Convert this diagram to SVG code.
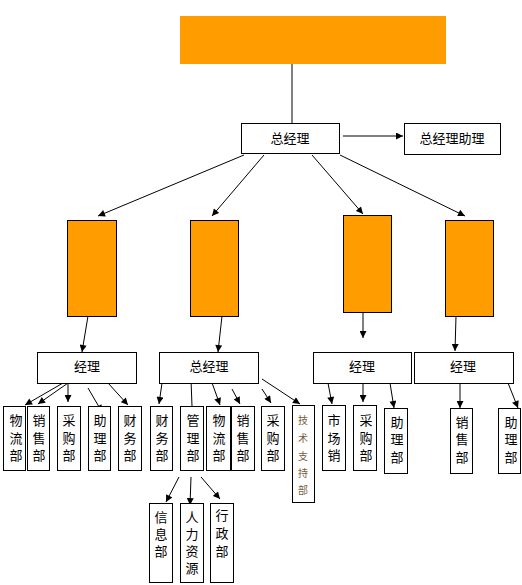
<svg xmlns="http://www.w3.org/2000/svg" width="522" height="585" viewBox="0 0 522 585">
<style>
.box{fill:#fff;stroke:#000;stroke-width:1}
.org{fill:#FF9C00;stroke:#000;stroke-width:1}
.t{font-family:"Liberation Sans","Noto Sans CJK SC",sans-serif;font-size:13px;fill:#000;text-anchor:middle}
.s{font-family:"Liberation Sans","Noto Sans CJK SC",sans-serif;font-size:10px;fill:#7a5c3c;text-anchor:middle}
.c{stroke:#000;stroke-width:1;fill:none}
.a{stroke:#000;stroke-width:1;fill:none;marker-end:url(#ah)}
</style>
<defs>
<marker id="ah" viewBox="0 0 10 10" refX="10" refY="5" markerWidth="8" markerHeight="7" orient="auto" markerUnits="userSpaceOnUse"><path d="M0,0 L10,5 L0,10 z" fill="#000"/></marker>
</defs>
<rect width="522" height="585" fill="#fff"/>
<g id="connectors">
<line class="c" x1="292" y1="64" x2="292" y2="123"/>
<line class="a" x1="343" y1="136" x2="403" y2="136"/>
<line class="a" x1="244" y1="155" x2="98" y2="216"/>
<line class="a" x1="264" y1="155" x2="212" y2="216"/>
<line class="a" x1="312" y1="155" x2="363" y2="214"/>
<line class="a" x1="340" y1="155" x2="465" y2="216"/>
<line class="a" x1="88" y1="316" x2="82" y2="352"/>
<line class="a" x1="222" y1="316" x2="218" y2="352"/>
<line class="a" x1="363" y1="312" x2="363" y2="338"/>
<line class="a" x1="456" y1="316" x2="455" y2="351"/>
<line class="a" x1="63" y1="383" x2="25" y2="405"/>
<line class="a" x1="68" y1="383" x2="38" y2="404"/>
<line class="a" x1="68" y1="378" x2="68" y2="402"/>
<line class="a" x1="88" y1="388" x2="102" y2="412"/>
<line class="a" x1="108" y1="383" x2="128" y2="405"/>
<line class="a" x1="162" y1="383" x2="159" y2="404"/>
<line class="c" x1="191" y1="380" x2="192" y2="406"/>
<line class="a" x1="211" y1="380" x2="220" y2="405"/>
<line class="a" x1="232" y1="389" x2="240" y2="404"/>
<line class="a" x1="262" y1="389" x2="271" y2="403"/>
<line class="a" x1="262" y1="379" x2="300" y2="404"/>
<line class="a" x1="179" y1="477" x2="166" y2="502"/>
<line class="a" x1="191" y1="477" x2="190" y2="505"/>
<line class="a" x1="201" y1="477" x2="220" y2="499"/>
<line class="a" x1="328" y1="383" x2="332" y2="404"/>
<line class="a" x1="363" y1="379" x2="363" y2="402"/>
<line class="a" x1="390" y1="383" x2="394" y2="408"/>
<line class="a" x1="460" y1="383" x2="460" y2="408"/>
<line class="a" x1="508" y1="383" x2="518" y2="408"/>
</g>
<g id="top"><rect x="180" y="16" width="266" height="48" fill="#FF9C00"/></g>
<g id="zjl"><rect class="box" x="241.5" y="123.5" width="98" height="30"/><text class="t" x="290" y="143">总经理</text></g>
<g id="zjlzl"><rect class="box" x="404.5" y="123.5" width="96" height="31"/><text class="t" x="452" y="143">总经理助理</text></g>
<g id="o1"><rect class="org" x="67.5" y="220.5" width="49" height="96"/></g>
<g id="o2"><rect class="org" x="190.5" y="220.5" width="48" height="96"/></g>
<g id="o3"><rect class="org" x="343.5" y="215.5" width="48" height="97"/></g>
<g id="o4"><rect class="org" x="445.5" y="220.5" width="48" height="96"/></g>
<g id="m1"><rect class="box" x="37.5" y="352.5" width="99" height="31"/><text class="t" x="87" y="371">经理</text></g>
<g id="m2"><rect class="box" x="159.5" y="352.5" width="99" height="31"/><text class="t" x="209" y="371">总经理</text></g>
<g id="m3"><rect class="box" x="313.5" y="352.5" width="98" height="31"/><text class="t" x="362" y="371">经理</text></g>
<g id="m4"><rect class="box" x="414.5" y="352.5" width="99" height="31"/><text class="t" x="463" y="371">经理</text></g>
<g id="l1"><rect class="box" x="3.5" y="406.5" width="22" height="64"/><text class="t"><tspan x="16" y="425">物</tspan><tspan x="16" y="443">流</tspan><tspan x="16" y="460">部</tspan></text></g>
<g id="l2"><rect class="box" x="27.5" y="406.5" width="22" height="64"/><text class="t"><tspan x="39" y="425">销</tspan><tspan x="39" y="443">售</tspan><tspan x="39" y="460">部</tspan></text></g>
<g id="l3"><rect class="box" x="57.5" y="406.5" width="23" height="64"/><text class="t"><tspan x="69" y="425">采</tspan><tspan x="69" y="443">购</tspan><tspan x="69" y="460">部</tspan></text></g>
<g id="l4"><rect class="box" x="88.5" y="406.5" width="22" height="64"/><text class="t"><tspan x="100" y="425">助</tspan><tspan x="100" y="443">理</tspan><tspan x="100" y="460">部</tspan></text></g>
<g id="l5"><rect class="box" x="118.5" y="406.5" width="23" height="64"/><text class="t"><tspan x="130" y="425">财</tspan><tspan x="130" y="443">务</tspan><tspan x="130" y="460">部</tspan></text></g>
<g id="l6"><rect class="box" x="150.5" y="406.5" width="22" height="64"/><text class="t"><tspan x="162" y="425">财</tspan><tspan x="162" y="443">务</tspan><tspan x="162" y="460">部</tspan></text></g>
<g id="l7"><rect class="box" x="180.5" y="406.5" width="23" height="64"/><text class="t"><tspan x="193" y="425">管</tspan><tspan x="193" y="443">理</tspan><tspan x="193" y="460">部</tspan></text></g>
<g id="l8"><rect class="box" x="206.5" y="406.5" width="24" height="64"/><text class="t"><tspan x="219" y="425">物</tspan><tspan x="219" y="443">流</tspan><tspan x="219" y="460">部</tspan></text></g>
<g id="l9"><rect class="box" x="231.5" y="406.5" width="23" height="64"/><text class="t"><tspan x="243" y="425">销</tspan><tspan x="243" y="443">售</tspan><tspan x="243" y="460">部</tspan></text></g>
<g id="l10"><rect class="box" x="261.5" y="406.5" width="23" height="64"/><text class="t"><tspan x="273" y="425">采</tspan><tspan x="273" y="443">购</tspan><tspan x="273" y="460">部</tspan></text></g>
<g id="l11"><rect class="box" x="292.5" y="405.5" width="22" height="97"/><text class="s"><tspan x="303" y="424">技</tspan><tspan x="303" y="442">术</tspan><tspan x="303" y="460">支</tspan><tspan x="303" y="477">持</tspan><tspan x="303" y="494">部</tspan></text></g>
<g id="l12"><rect class="box" x="322.5" y="405.5" width="23" height="65"/><text class="t"><tspan x="334" y="425">市</tspan><tspan x="334" y="443">场</tspan><tspan x="334" y="460">销</tspan></text></g>
<g id="l13"><rect class="box" x="353.5" y="405.5" width="23" height="65"/><text class="t"><tspan x="366" y="425">采</tspan><tspan x="366" y="443">购</tspan><tspan x="366" y="460">部</tspan></text></g>
<g id="l14"><rect class="box" x="384.5" y="408.5" width="23" height="65"/><text class="t"><tspan x="397" y="427">助</tspan><tspan x="397" y="444">理</tspan><tspan x="397" y="462">部</tspan></text></g>
<g id="l15"><rect class="box" x="450.5" y="408.5" width="22" height="65"/><text class="t"><tspan x="462" y="427">销</tspan><tspan x="462" y="444">售</tspan><tspan x="462" y="462">部</tspan></text></g>
<g id="l16"><rect class="box" x="498.5" y="408.5" width="22" height="65"/><text class="t"><tspan x="511" y="427">助</tspan><tspan x="511" y="444">理</tspan><tspan x="511" y="462">部</tspan></text></g>
<g id="b1"><rect class="box" x="149.5" y="503.5" width="23" height="79"/><text class="t"><tspan x="161" y="522">信</tspan><tspan x="161" y="539">息</tspan><tspan x="161" y="556">部</tspan></text></g>
<g id="b2"><rect class="box" x="180.5" y="503.5" width="23" height="79"/><text class="t"><tspan x="192" y="522">人</tspan><tspan x="192" y="539">力</tspan><tspan x="192" y="556">资</tspan><tspan x="192" y="573">源</tspan></text></g>
<g id="b3"><rect class="box" x="210.5" y="503.5" width="23" height="79"/><text class="t"><tspan x="222" y="520">行</tspan><tspan x="222" y="538">政</tspan><tspan x="222" y="556">部</tspan></text></g>
</svg>
